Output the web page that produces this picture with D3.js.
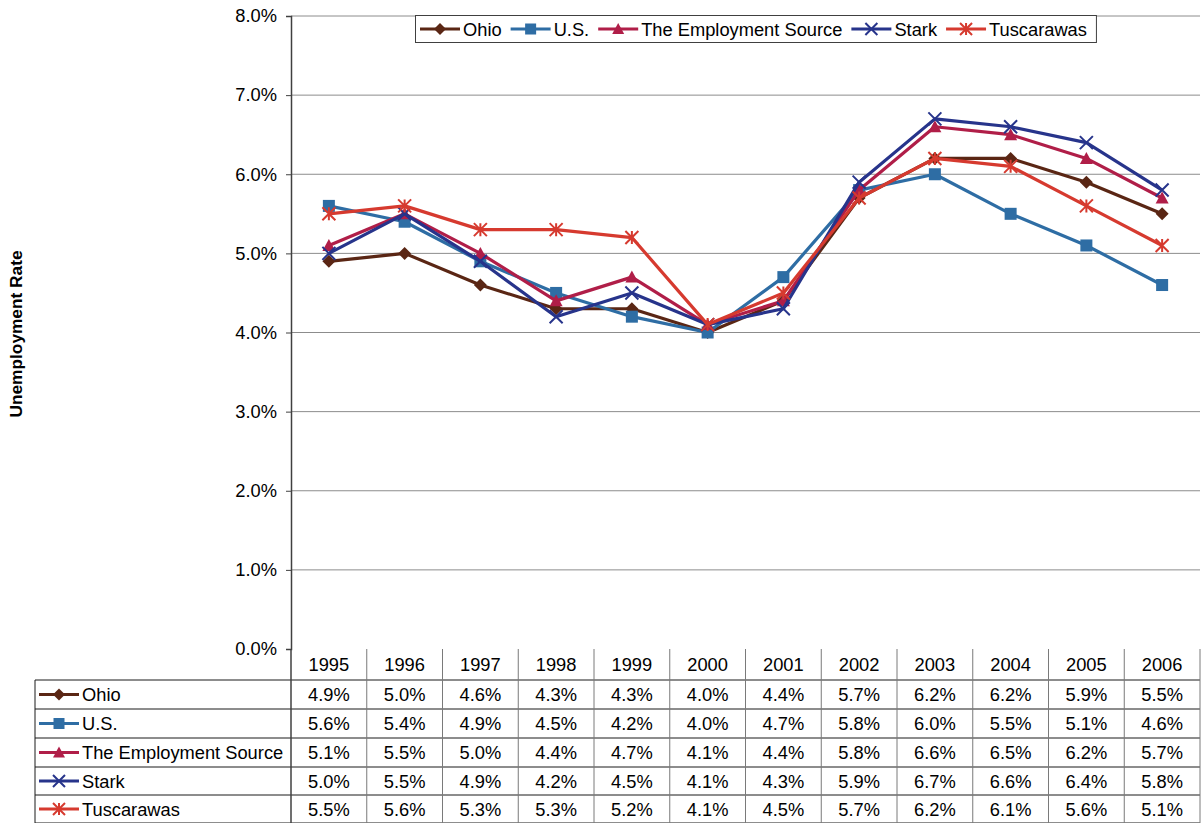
<!DOCTYPE html>
<html>
<head>
<meta charset="utf-8">
<script src="https://cdn.jsdelivr.net/npm/d3@7"></script>
<style>
  body { margin: 0; background: #fff; }
  text { font-family: "Liberation Sans", Arial, sans-serif; }
</style>
</head>
<body>
<div id="chart"></div>
<script>
var years = ["1995","1996","1997","1998","1999","2000","2001","2002","2003","2004","2005","2006"];
var seriesNames = ["Ohio", "U.S.", "The Employment Source", "Stark", "Tuscarawas"];
var ohio  = [4.9, 5.0, 4.6, 4.3, 4.3, 4.0, 4.4, 5.7, 6.2, 6.2, 5.9, 5.5];
var us    = [5.6, 5.4, 4.9, 4.5, 4.2, 4.0, 4.7, 5.8, 6.0, 5.5, 5.1, 4.6];
var tes   = [5.1, 5.5, 5.0, 4.4, 4.7, 4.1, 4.4, 5.8, 6.6, 6.5, 6.2, 5.7];
var stark = [5.0, 5.5, 4.9, 4.2, 4.5, 4.1, 4.3, 5.9, 6.7, 6.6, 6.4, 5.8];
var tusc  = [5.5, 5.6, 5.3, 5.3, 5.2, 4.1, 4.5, 5.7, 6.2, 6.1, 5.6, 5.1];
var yTicks = [0, 1, 2, 3, 4, 5, 6, 7, 8];

var colors  = ["#5a2614", "#2e6da4", "#b01e48", "#27348b", "#d63a2f"];
var markers = ["diamond", "square", "triangle", "x", "star"];
var series = seriesNames.map(function(n, i) {
  return { name: n, values: [ohio, us, tes, stark, tusc][i], color: colors[i], marker: markers[i] };
});

var W = 1201, H = 823;
var plotL = 291, plotR = 1200, plotT = 16, plotB = 649;
var tableLeft = 35;
var rowY = [649, 680, 709, 738, 767, 795, 823];
var FS = 18.3;

var svg = d3.select('#chart').append('svg').attr('width', W).attr('height', H);

var x = d3.scaleBand().domain(years).range([plotL, plotR]);
var y = d3.scaleLinear().domain([0, 8]).range([plotB, plotT]);
var cx = function(i) { return x(years[i]) + x.bandwidth() / 2; };

// gridlines
svg.append('g').selectAll('line').data(yTicks.filter(function(t){ return t > 0; })).enter()
  .append('line')
  .attr('x1', plotL).attr('x2', plotR)
  .attr('y1', function(d){ return y(d); }).attr('y2', function(d){ return y(d); })
  .attr('stroke', '#8c8c8c').attr('stroke-width', 1);

// y axis
var yAxis = d3.axisLeft(y).tickValues(yTicks).tickSize(5).tickPadding(9)
  .tickFormat(function(d){ return d.toFixed(1) + '%'; });
var ga = svg.append('g').attr('transform', 'translate(' + plotL + ',0)').call(yAxis);
ga.select('.domain').attr('stroke', '#404040').attr('stroke-width', 1.5);
ga.selectAll('.tick line').attr('stroke', '#404040');
ga.selectAll('.tick text').attr('font-size', FS).attr('fill', '#000')
  .style('font-family', '"Liberation Sans", Arial, sans-serif');

svg.append('text')
  .attr('transform', 'translate(22,' + 334 + ') rotate(-90)')
  .attr('text-anchor', 'middle')
  .attr('font-size', 17.3).attr('font-weight', 'bold')
  .text('Unemployment Rate');

function drawMarker(g, type, color, px, py, s) {
  var h = s / 2;
  if (type === 'diamond') {
    g.append('path').attr('d', 'M' + px + ',' + (py - h) + 'L' + (px + h) + ',' + py + 'L' + px + ',' + (py + h) + 'L' + (px - h) + ',' + py + 'Z').attr('fill', color);
  } else if (type === 'square') {
    g.append('rect').attr('x', px - h + 0.5).attr('y', py - h + 0.5).attr('width', s - 1).attr('height', s - 1).attr('fill', color);
  } else if (type === 'triangle') {
    g.append('path').attr('d', 'M' + px + ',' + (py - h) + 'L' + (px + h) + ',' + (py + h - 1) + 'L' + (px - h) + ',' + (py + h - 1) + 'Z').attr('fill', color);
  } else if (type === 'x') {
    g.append('path').attr('d', 'M' + (px - h) + ',' + (py - h) + 'L' + (px + h) + ',' + (py + h) + 'M' + (px + h) + ',' + (py - h) + 'L' + (px - h) + ',' + (py + h))
      .attr('stroke', color).attr('stroke-width', 2).attr('fill', 'none');
  } else if (type === 'star') {
    g.append('path').attr('d', 'M' + (px - h) + ',' + (py - h) + 'L' + (px + h) + ',' + (py + h) + 'M' + (px + h) + ',' + (py - h) + 'L' + (px - h) + ',' + (py + h) + 'M' + px + ',' + (py - h) + 'L' + px + ',' + (py + h))
      .attr('stroke', color).attr('stroke-width', 2).attr('fill', 'none');
  }
}

// lines
var line = d3.line().x(function(d, i){ return cx(i); }).y(function(d){ return y(d); });
series.forEach(function(s) {
  var g = svg.append('g');
  g.append('path').datum(s.values).attr('d', line)
    .attr('fill', 'none').attr('stroke', s.color).attr('stroke-width', 3.2).attr('stroke-linejoin', 'round');
  s.values.forEach(function(v, i) { drawMarker(g, s.marker, s.color, cx(i), y(v), 13); });
});

// legend at top
var leg = svg.append('g');
var legBox = leg.append('rect').attr('y', 15.5).attr('height', 27).attr('fill', '#fff')
  .attr('stroke', '#404040').attr('stroke-width', 1);
var lx = 420;
series.forEach(function(s) {
  var g = leg.append('g');
  g.append('line').attr('x1', lx).attr('x2', lx + 40).attr('y1', 29).attr('y2', 29)
    .attr('stroke', s.color).attr('stroke-width', 3.2);
  drawMarker(g, s.marker, s.color, lx + 20, 29, 12);
  var t = g.append('text').attr('x', lx + 43).attr('y', 35.5).attr('font-size', FS).text(s.name);
  lx += 43 + t.node().getComputedTextLength() + 9;
});
legBox.attr('x', 415.5).attr('width', lx - 415);

// data table
var tbl = svg.append('g');
rowY.slice(1).forEach(function(ry) {
  tbl.append('line').attr('x1', tableLeft).attr('x2', plotR).attr('y1', ry).attr('y2', ry)
    .attr('stroke', '#1a1a1a').attr('stroke-width', 1);
});
years.forEach(function(yr) {
  tbl.append('line').attr('x1', x(yr) + x.bandwidth()).attr('x2', x(yr) + x.bandwidth())
    .attr('y1', plotB).attr('y2', H).attr('stroke', '#7a7a7a').attr('stroke-width', 1);
});
tbl.append('line').attr('x1', plotL).attr('x2', plotL).attr('y1', plotB).attr('y2', H)
  .attr('stroke', '#404040').attr('stroke-width', 1.5);
tbl.append('line').attr('x1', tableLeft).attr('x2', tableLeft).attr('y1', rowY[1]).attr('y2', H)
  .attr('stroke', '#1a1a1a').attr('stroke-width', 1);

years.forEach(function(yr) {
  tbl.append('text').attr('x', x(yr) + x.bandwidth() / 2).attr('y', (rowY[0] + rowY[1]) / 2 + 6.5)
    .attr('text-anchor', 'middle').attr('font-size', FS).text(yr);
});

series.forEach(function(s, r) {
  var my = (rowY[r + 1] + rowY[r + 2]) / 2;
  var g = tbl.append('g');
  g.append('line').attr('x1', 39).attr('x2', 79).attr('y1', my).attr('y2', my)
    .attr('stroke', s.color).attr('stroke-width', 3.2);
  drawMarker(g, s.marker, s.color, 59, my, 12);
  g.append('text').attr('x', 82).attr('y', my + 6.5).attr('font-size', FS).text(s.name);
  s.values.forEach(function(v, i) {
    g.append('text').attr('x', cx(i)).attr('y', my + 6.5).attr('text-anchor', 'middle')
      .attr('font-size', FS).text(v.toFixed(1) + '%');
  });
});
</script>
</body>
</html>
